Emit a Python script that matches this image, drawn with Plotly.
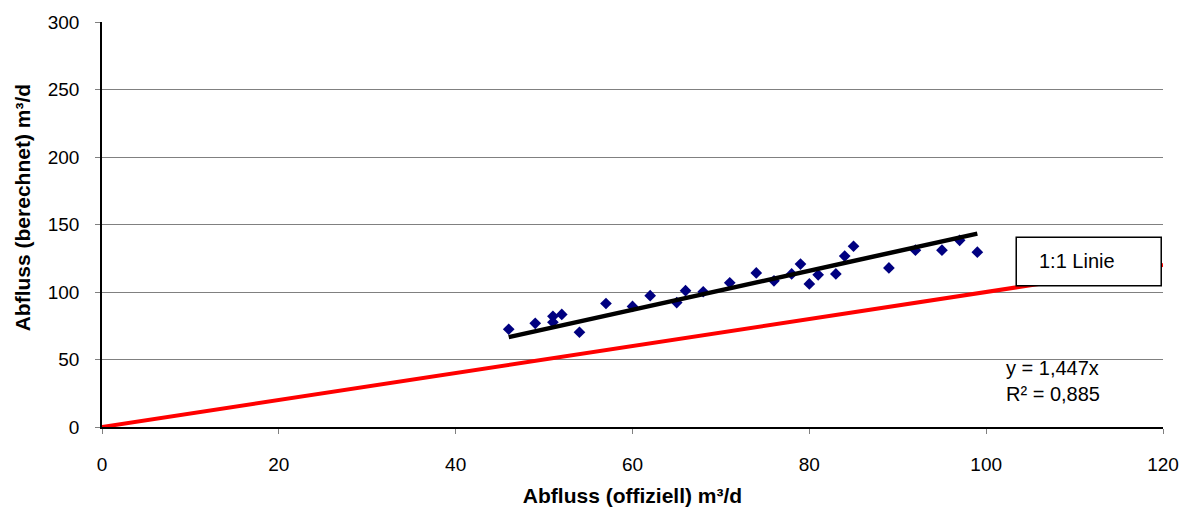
import plotly.graph_objects as go

# Abfluss offiziell (x) vs. berechnet (y), m³/d
abfluss_offiziell = [46, 49, 51, 51, 52, 54, 57, 60, 62, 65, 66, 68, 71, 74, 76, 78,
                     79, 80, 81, 83, 84, 85, 89, 92, 95, 97, 99]
abfluss_berechnet = [72.4, 76.8, 82, 77.6, 83.4, 70.2, 91.5, 89.3, 97.3, 92.2, 101, 100.2,
                     106.8, 114.1, 108.3, 113.4, 120.7, 106, 112.7, 113.4, 126.6, 133.9,
                     117.8, 131, 131, 138.3, 129.5]

# Regression through origin: y = 1,447x
steigung = 1.447
fit_x = [min(abfluss_offiziell), max(abfluss_offiziell)]
fit_y = [steigung * v for v in fit_x]

# 1:1 line
linie_x = [0, 120]
linie_y = [0, 120]

x_ticks = [0, 20, 40, 60, 80, 100, 120]
y_ticks = [0, 50, 100, 150, 200, 250, 300]

font_family = "Liberation Sans, Arial, sans-serif"

fig = go.Figure()
fig.add_trace(go.Scatter(x=linie_x, y=linie_y, mode="lines",
                         line=dict(color="#ff0000", width=4), showlegend=False))
fig.add_trace(go.Scatter(x=abfluss_offiziell, y=abfluss_berechnet, mode="markers",
                         marker=dict(symbol="diamond", color="#000080", size=9),
                         showlegend=False))
fig.add_trace(go.Scatter(x=fit_x, y=fit_y, mode="lines",
                         line=dict(color="#000000", width=4.5), showlegend=False))

# legend-like box for the 1:1 line
fig.add_shape(type="rect", xref="x", yref="y", x0=103.4, x1=119.8, y0=104.6, y1=140.5,
              line=dict(color="#000000", width=1.5), fillcolor="#ffffff", layer="above")
fig.add_annotation(x=110.3, y=123, xref="x", yref="y", text="1:1 Linie",
                   showarrow=False, font=dict(size=20, color="#000000", family=font_family))
fig.add_annotation(x=102.0, y=53.5, xref="x", yref="y", xanchor="left", yanchor="top",
                   text="y = 1,447x<br>R² = 0,885", showarrow=False, align="left",
                   font=dict(size=20, color="#000000", family=font_family))

# y axis title, set slightly above the plot centre
fig.add_annotation(x=-0.0754, y=0.54, xref="paper", yref="paper", textangle=-90,
                   xanchor="center", yanchor="middle",
                   text="<b>Abfluss (berechnet) m³/d</b>", showarrow=False,
                   font=dict(size=21, color="#000000", family=font_family))

fig.update_layout(
    width=1191, height=517,
    margin=dict(l=102, r=28, t=17, b=90),
    paper_bgcolor="#ffffff", plot_bgcolor="#ffffff",
    font=dict(family=font_family, size=19, color="#000000"),
    xaxis=dict(range=[0, 120], tickvals=x_ticks, showgrid=False, zeroline=False,
               showline=True, linecolor="#000000", linewidth=1.5,
               ticks="outside", ticklen=5, tickcolor="#808080",
               ticklabelstandoff=14, tickfont=dict(size=19),
               title=dict(text="<b>Abfluss (offiziell) m³/d</b>", font=dict(size=21), standoff=15)),
    yaxis=dict(range=[0, 300], tickvals=y_ticks, showgrid=True, gridcolor="#808080",
               gridwidth=1, zeroline=False, showline=True, linecolor="#000000",
               linewidth=1.5, ticks="outside", ticklen=5, tickcolor="#808080",
               ticklabelstandoff=12, tickfont=dict(size=19)),
)

fig.write_html("out.html")
